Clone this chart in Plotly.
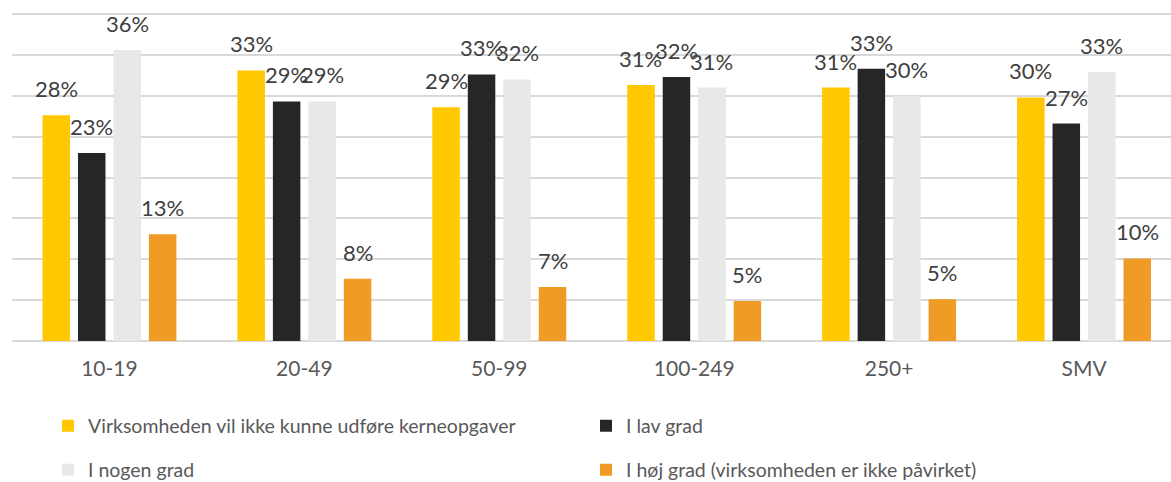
import plotly.graph_objects as go

categories = ["10-19", "20-49", "50-99", "100-249", "250+", "SMV"]
series_names = [
    "Virksomheden vil ikke kunne udføre kerneopgaver",
    "I lav grad",
    "I nogen grad",
    "I høj grad (virksomheden er ikke påvirket)",
]
v_kerne = [27.6, 33.1, 28.6, 31.3, 31.0, 29.8]
v_lav = [23.0, 29.3, 32.6, 32.3, 33.3, 26.6]
v_nogen = [35.6, 29.3, 32.0, 31.0, 30.0, 32.9]
v_hoej = [13.05, 7.6, 6.6, 4.9, 5.1, 10.1]
colors = ["#FFC800", "#262626", "#E8E8E8", "#EF9B26"]

W, H = 1171, 482
plot_left, plot_right = 11.5, 1171
cat_px = 195.0
x_max = -0.5 + (plot_right - plot_left) / cat_px
bargap = 0.272
slot_px = cat_px * (1 - bargap) / 4

FONT = "Lato"
fig = go.Figure()
all_vals = [v_kerne, v_lav, v_nogen, v_hoej]
for i, (name, vals, col) in enumerate(zip(series_names, all_vals, colors)):
    fig.add_trace(go.Bar(
        x=categories, y=vals, name=name,
        marker=dict(color=col, line=dict(width=0)),
        legend="legend" if i < 2 else "legend2",
        hoverinfo="skip",
    ))
    for c, v in zip(categories, vals):
        fig.add_annotation(
            x=c, y=v, xref="x", yref="y",
            text=f"{v:.0f}%", showarrow=False,
            xanchor="center", yanchor="bottom",
            xshift=(i - 1.5) * slot_px, yshift=11,
            font=dict(family=FONT, size=22, color="#404040"),
        )

leg_common = dict(
    orientation="h", xref="container", yref="container",
    xanchor="left", yanchor="middle",
    entrywidth=493, entrywidthmode="pixels",
    font=dict(family=FONT, size=19.5, color="#595959"),
    bgcolor="rgba(0,0,0,0)", borderwidth=0,
    traceorder="normal",
)
fig.update_layout(
    width=W, height=H,
    margin=dict(l=plot_left, r=0, t=0, b=141, pad=0),
    paper_bgcolor="white", plot_bgcolor="white",
    barmode="group", bargap=bargap, bargroupgap=0.225,
    showlegend=True,
    legend=dict(x=48 / W, y=1 - 426 / H, **leg_common),
    legend2=dict(x=48 / W, y=1 - 470 / H, **leg_common),
    xaxis=dict(
        type="category", range=[-0.5, x_max],
        showgrid=False, zeroline=False, showline=False,
        ticks="", tickfont=dict(family=FONT, size=21, color="#595959"),
        ticklabelstandoff=13,
    ),
    yaxis=dict(
        range=[0, 40 + 14 / 8.175], dtick=5, tick0=0,
        showgrid=True, gridcolor="#D9D9D9", gridwidth=1.5,
        zeroline=True, zerolinecolor="#D9D9D9", zerolinewidth=1.5,
        showticklabels=False, ticks="", showline=False,
    ),
)
fig.write_html("out.html")
